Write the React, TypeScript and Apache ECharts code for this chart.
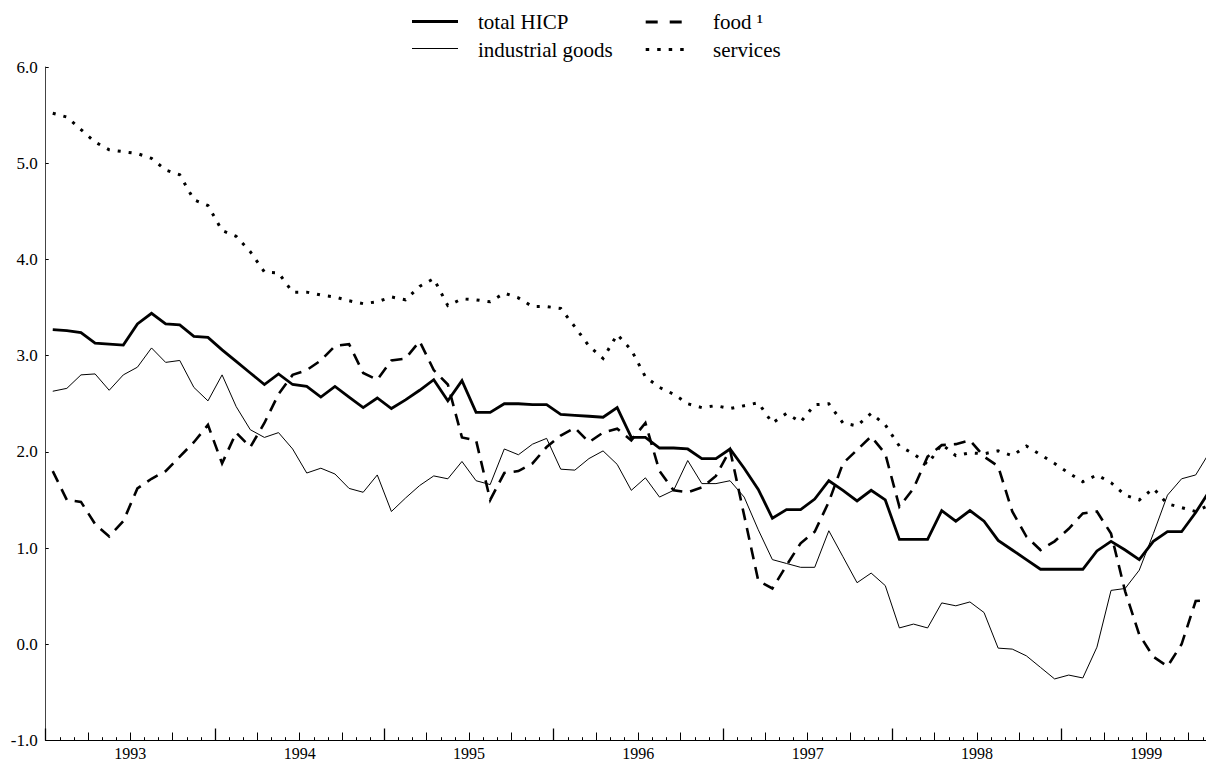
import React, { useEffect, useRef } from "react";
import * as echarts from "echarts";

// Months counted from January 1993 (index 0 = Jan 1993)
const yearLabels = ["1993", "1994", "1995", "1996", "1997", "1998", "1999"];
const yTickMin = -1;
const yTickMax = 6;

const seriesNames = ["total HICP", "industrial goods", "food \u00b9", "services"];

const totalHICP = [
  3.27, 3.26, 3.24, 3.13, 3.12, 3.11, 3.33, 3.44, 3.33, 3.32, 3.2, 3.19,
  3.06, 2.94, 2.82, 2.7, 2.81, 2.7, 2.68, 2.57, 2.68, 2.57, 2.46, 2.56,
  2.45, 2.54, 2.64, 2.75, 2.53, 2.74, 2.41, 2.41, 2.5, 2.5, 2.49, 2.49,
  2.39, 2.38, 2.37, 2.36, 2.46, 2.15, 2.15, 2.04, 2.04, 2.03, 1.93, 1.93,
  2.03, 1.83, 1.61, 1.31, 1.4, 1.4, 1.51, 1.7, 1.6, 1.49, 1.6, 1.5,
  1.09, 1.09, 1.09, 1.39, 1.28, 1.39, 1.28, 1.08, 0.98, 0.88, 0.78, 0.78,
  0.78, 0.78, 0.97, 1.07, 0.98, 0.88, 1.07, 1.17, 1.17, 1.37, 1.6,
];

const industrialGoods = [
  2.63, 2.66, 2.8, 2.81, 2.64, 2.8, 2.88, 3.08, 2.93, 2.95, 2.67, 2.53,
  2.8, 2.47, 2.23, 2.15, 2.2, 2.03, 1.78, 1.83, 1.77, 1.62, 1.58, 1.76,
  1.38, 1.52, 1.65, 1.75, 1.72, 1.9, 1.7, 1.66, 2.03, 1.97, 2.08, 2.14,
  1.82, 1.81, 1.93, 2.01, 1.87, 1.6, 1.73, 1.53, 1.6, 1.91, 1.67, 1.67,
  1.7, 1.53, 1.19, 0.88, 0.84, 0.8, 0.8, 1.18, 0.91, 0.64, 0.74, 0.61,
  0.17, 0.21, 0.17, 0.43, 0.4, 0.44, 0.33, -0.04, -0.05, -0.12, -0.24, -0.36,
  -0.32, -0.35, -0.03, 0.56, 0.58, 0.77, 1.15, 1.55, 1.72, 1.76, 2.0,
];

const food = [
  1.8, 1.5, 1.48, 1.25, 1.12, 1.28, 1.62, 1.72, 1.8, 1.95, 2.1, 2.28,
  1.88, 2.2, 2.05, 2.3, 2.6, 2.8, 2.85, 2.95, 3.1, 3.12, 2.82, 2.75,
  2.95, 2.97, 3.15, 2.85, 2.7, 2.15, 2.12, 1.5, 1.78, 1.8, 1.88, 2.05,
  2.17, 2.25, 2.1, 2.2, 2.24, 2.12, 2.3, 1.8, 1.6, 1.58, 1.63, 1.75,
  2.02, 1.34, 0.66, 0.58, 0.82, 1.05, 1.17, 1.48, 1.88, 2.02, 2.16, 1.98,
  1.43, 1.62, 1.95, 2.07, 2.08, 2.12, 1.95, 1.85, 1.38, 1.12, 0.98, 1.07,
  1.2, 1.36, 1.38, 1.15, 0.55, 0.1, -0.13, -0.23, 0.0, 0.45, 0.46,
];

const services = [
  5.52, 5.48, 5.35, 5.22, 5.14, 5.12, 5.1, 5.05, 4.93, 4.88, 4.62, 4.56,
  4.3, 4.24, 4.08, 3.87, 3.86, 3.66, 3.66, 3.63, 3.61, 3.57, 3.54, 3.56,
  3.61, 3.58, 3.72, 3.8, 3.52, 3.59, 3.58, 3.56, 3.65, 3.6, 3.51, 3.51,
  3.49, 3.3, 3.1, 2.97, 3.22, 3.06, 2.78, 2.67, 2.6, 2.5, 2.46, 2.48,
  2.45, 2.48, 2.51, 2.3, 2.4, 2.31, 2.49, 2.5, 2.3, 2.27, 2.4, 2.28,
  2.06, 1.98, 1.87, 2.08, 1.96, 1.99, 1.98, 2.01, 1.96, 2.06, 1.97, 1.88,
  1.78, 1.69, 1.76, 1.68, 1.55, 1.5, 1.62, 1.46, 1.42, 1.38, 1.45,
];

export default function App() {
  const ref = useRef<HTMLDivElement>(null);

  useEffect(() => {
    if (!ref.current) return;
    const chart = echarts.init(ref.current, null, { renderer: "svg" });
    const font = "Liberation Serif";
    const monthsShown = 82.23;

    const yearTicks = yearLabels.map((_, k) => k * 12);
    const yearMids = yearLabels.map((_, k) => k * 12 + 6);
    const quarterTicks: number[] = [];
    const monthTicks: number[] = [];
    for (let m = 1; m <= 82; m++) {
      if (m % 12 === 0) continue;
      if (m % 3 === 0) quarterTicks.push(m);
      else monthTicks.push(m);
    }
    const pts = (arr: number[]) => arr.map((v, i) => [i + 0.5, v]);

    const tickAxis = (values: number[], len: number) => ({
      type: "value",
      min: 0,
      max: monthsShown,
      position: "bottom",
      gridIndex: 0,
      splitLine: { show: false },
      axisLine: { show: false, onZero: false },
      axisLabel: { show: false },
      axisTick: {
        show: true,
        inside: true,
        length: len,
        customValues: values,
        lineStyle: { color: "#000", width: 1 },
      },
    });

    const lineSeries = (
      name: string,
      data: number[],
      width: number,
      type: any
    ) => ({
      name,
      type: "line",
      xAxisIndex: 0,
      yAxisIndex: 0,
      data: pts(data),
      showSymbol: false,
      symbol: "none",
      clip: true,
      lineStyle: { color: "#000", width, type, cap: "butt", join: "miter" },
      z: 3,
    });

    const legendText = (text: string, x: number, y: number) => ({
      type: "text",
      x,
      y,
      style: {
        text,
        fill: "#000",
        fontSize: 21,
        fontFamily: font,
        textVerticalAlign: "middle",
        verticalAlign: "middle",
      },
    });
    const legendLine = (
      x1: number,
      x2: number,
      y: number,
      width: number,
      dash?: number[]
    ) => ({
      type: "line",
      shape: { x1, y1: y, x2, y2: y },
      style: {
        stroke: "#000",
        lineWidth: width,
        lineDash: dash,
        lineCap: "butt",
      },
    });

    chart.setOption({
      animation: false,
      backgroundColor: "#fff",
      textStyle: { fontFamily: font },
      grid: { left: 45.7, right: 0, top: 67, bottom: 21.5, containLabel: false },
      xAxis: [
        {
          type: "value",
          min: 0,
          max: monthsShown,
          position: "bottom",
          gridIndex: 0,
          splitLine: { show: false },
          axisLine: { show: true, onZero: false, lineStyle: { color: "#000", width: 1 } },
          axisTick: {
            show: true,
            inside: true,
            length: 12,
            customValues: yearTicks,
            lineStyle: { color: "#000", width: 1.3 },
          },
          axisLabel: {
            show: true,
            customValues: yearMids,
            formatter: (v: number) => yearLabels[Math.round((v - 6) / 12)] ?? "",
            color: "#000",
            fontFamily: font,
            fontSize: 16,
            margin: 5,
          },
        },
        tickAxis(quarterTicks, 8),
        tickAxis(monthTicks, 3.3),
      ],
      yAxis: {
        type: "value",
        min: yTickMin,
        max: yTickMax,
        interval: 1,
        splitLine: { show: false },
        axisLine: { show: true, onZero: false, lineStyle: { color: "#444", width: 1 } },
        axisTick: { show: true, inside: true, length: 3, lineStyle: { color: "#000" } },
        axisLabel: {
          color: "#000",
          fontFamily: font,
          fontSize: 17,
          margin: 8,
          formatter: (v: number) => v.toFixed(1),
        },
      },
      series: [
        lineSeries(seriesNames[0], totalHICP, 2.8, "solid"),
        lineSeries(seriesNames[1], industrialGoods, 1, "solid"),
        lineSeries(seriesNames[2], food, 2.6, [12, 8]),
        lineSeries(seriesNames[3], services, 3, [3, 8]),
      ],
      graphic: [
        legendLine(412, 458, 21.5, 3),
        legendText(seriesNames[0], 478, 22),
        legendLine(412, 458, 48.5, 1),
        legendText(seriesNames[1], 478, 49.5),
        legendLine(645.7, 682, 22, 3, [12, 12]),
        legendText(seriesNames[2], 713, 22),
        legendLine(645.7, 684, 49.5, 3, [3.5, 8]),
        legendText(seriesNames[3], 713, 49.5),
      ],
    });

    return () => {
      chart.dispose();
    };
  }, []);

  return (
    <div
      ref={ref}
      style={{
        position: "fixed",
        left: 0,
        top: 0,
        width: 1206,
        height: 762,
        background: "#fff",
      }}
    />
  );
}
